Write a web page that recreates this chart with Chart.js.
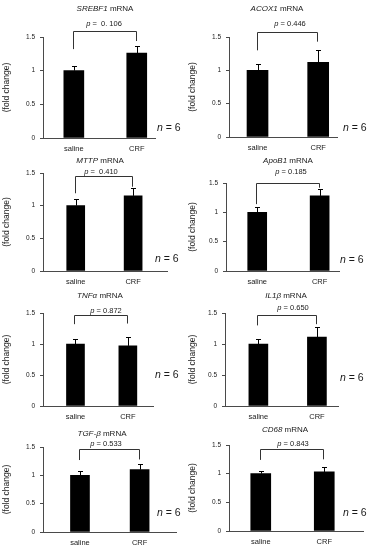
<!DOCTYPE html>
<html>
<head>
<meta charset="utf-8">
<script src="https://cdn.jsdelivr.net/npm/chart.js@4.4.1/dist/chart.umd.min.js"></script>
<style>
  html, body { margin: 0; padding: 0; background: #fff; }
  #wrap { position: relative; width: 372px; height: 550px; overflow: hidden;
          font-family: "Liberation Sans", Arial, sans-serif; color: #1a1a1a; }
  canvas { position: absolute; }
  .lbl { position: absolute; white-space: pre; transform: translate(-50%, -50%); line-height: 1; }
  .ttl { font-size: 8px; }
  .pv { font-size: 7.5px; }
  .nn { position: absolute; white-space: pre; transform: translateY(-50%); font-size: 10.5px; line-height: 1; }
</style>
</head>
<body>
<div id="wrap"></div>
<script>
// values
const genes = ['SREBF1', 'ACOX1', 'MTTP', 'ApoB1', 'TNF\u03b1', 'IL1\u03b2', 'TGF-\u03b2', 'CD68'];
const pLabels = [' 0. 106', '0.446', ' 0.410', '0.185', '0.872', '0.650', '0.533', '0.843'];
const groups = ['saline', 'CRF'];
const salineMean = [1.00, 1.00, 1.00, 1.00, 1.00, 1.00, 1.00, 1.00];
const salineErr = [0.07, 0.10, 0.10, 0.09, 0.08, 0.08, 0.08, 0.05];
const crfMean = [1.26, 1.12, 1.15, 1.28, 0.97, 1.11, 1.10, 1.03];
const crfErr = [0.11, 0.18, 0.12, 0.11, 0.14, 0.17, 0.10, 0.09];
const yTicks = [0, 0.5, 1, 1.5];
// significance bracket: top level and leg ends (data units)
const bracketTop = [1.59, 1.58, 1.46, 1.50, 1.46, 1.46, 1.46, 1.43];
const bracketLeft = [1.32, 1.30, 1.19, 1.14, 1.32, 1.30, 1.27, 1.24];
const bracketRight = [1.44, 1.43, 1.29, 1.42, 1.33, 1.32, 1.28, 1.25];
const nLabel = '6';

// panel placement (pixels)
const layout = [
    { left: 0,   top: 0,   h: 156, L: 43,  R: 155, y15: 37,  y0: 138, bw: 20, xmin: -0.49, xmax: 1.29, title: [105, 9],   p: [104, 23.5], n: [157, 127] },
    { left: 186, top: 0,   h: 156, L: 229, R: 337, y15: 37,  y0: 137, bw: 21, xmin: -0.47, xmax: 1.31, title: [277, 9],   p: [290, 24],   n: [343, 127] },
    { left: 0,   top: 156, h: 132, L: 43,  R: 167, y15: 173, y0: 271, bw: 18, xmin: -0.57, xmax: 1.59, title: [100, 161], p: [101, 172],  n: [155, 258] },
    { left: 186, top: 156, h: 132, L: 226, R: 339, y15: 183, y0: 271, bw: 19, xmin: -0.50, xmax: 1.31, title: [288, 161], p: [291, 172],  n: [340, 259] },
    { left: 0,   top: 288, h: 134, L: 43,  R: 153, y15: 313, y0: 406, bw: 18, xmin: -0.62, xmax: 1.48, title: [100, 296], p: [106, 311],  n: [155, 374] },
    { left: 186, top: 288, h: 134, L: 225, R: 338, y15: 313, y0: 406, bw: 19, xmin: -0.57, xmax: 1.36, title: [286, 296], p: [293, 308],  n: [340, 377] },
    { left: 0,   top: 422, h: 128, L: 43,  R: 176, y15: 447, y0: 532, bw: 19, xmin: -0.62, xmax: 1.61, title: [102, 434], p: [106, 444],  n: [157, 512] },
    { left: 186, top: 422, h: 128, L: 229, R: 363, y15: 445, y0: 531, bw: 20, xmin: -0.50, xmax: 1.61, title: [285, 430], p: [293, 444],  n: [343, 512] }
];

const FONT = '"Liberation Sans", Arial, sans-serif';
const AXIS = '#4a4a4a';

// error bars (upper only) + bracket
const extrasPlugin = {
    id: 'extras',
    afterDatasetsDraw(chart) {
        const i = chart.options.plugins.extras.idx;
        const { ctx, scales: { x, y } } = chart;
        ctx.save();
        ctx.strokeStyle = '#000';
        ctx.lineWidth = 1;
        const bars = [[0, salineMean[i], salineErr[i]], [1, crfMean[i], crfErr[i]]];
        bars.forEach(([xv, m, e]) => {
            const px = Math.round(x.getPixelForValue(xv)) + 0.5;
            const yb = y.getPixelForValue(m);
            const yt = Math.round(y.getPixelForValue(m + e)) + 0.5;
            ctx.beginPath();
            ctx.moveTo(px, yb);
            ctx.lineTo(px, yt);
            ctx.moveTo(px - 2.5, yt);
            ctx.lineTo(px + 2.5, yt);
            ctx.stroke();
        });
        ctx.strokeStyle = '#333';
        const x0 = Math.round(x.getPixelForValue(0)) - 0.5;
        const x1 = Math.round(x.getPixelForValue(1)) - 0.5;
        const yt = Math.round(y.getPixelForValue(bracketTop[i])) + 0.5;
        ctx.beginPath();
        ctx.moveTo(x0, y.getPixelForValue(bracketLeft[i]));
        ctx.lineTo(x0, yt);
        ctx.lineTo(x1, yt);
        ctx.lineTo(x1, y.getPixelForValue(bracketRight[i]));
        ctx.stroke();
        ctx.restore();
    }
};

const wrap = document.getElementById('wrap');

genes.forEach((gene, i) => {
    const lay = layout[i];
    const cv = document.createElement('canvas');
    cv.width = 186;
    cv.height = lay.h;
    cv.style.left = lay.left + 'px';
    cv.style.top = lay.top + 'px';
    wrap.appendChild(cv);

    new Chart(cv.getContext('2d'), {
        type: 'bar',
        data: {
            datasets: [{
                data: [{ x: 0, y: salineMean[i] }, { x: 1, y: crfMean[i] }],
                backgroundColor: '#000',
                borderWidth: 0,
                barThickness: lay.bw
            }]
        },
        options: {
            responsive: false,
            animation: false,
            devicePixelRatio: 1,
            layout: {
                padding: { top: lay.y15 - lay.top, right: 186 - (lay.R - lay.left), left: 0, bottom: 0 }
            },
            plugins: {
                legend: { display: false },
                tooltip: { enabled: false },
                extras: { idx: i }
            },
            scales: {
                x: {
                    type: 'linear',
                    offset: false,
                    min: lay.xmin,
                    max: lay.xmax,
                    afterBuildTicks: s => { s.ticks = [{ value: 0 }, { value: 1 }]; },
                    afterFit: s => { s.height = lay.top + lay.h - lay.y0; },
                    grid: { display: false, drawTicks: false, offset: false },
                    border: { display: true, color: AXIS, width: 1 },
                    ticks: {
                        padding: 6,
                        color: '#1a1a1a',
                        font: { family: FONT, size: 7.5 },
                        callback: v => groups[v]
                    }
                },
                y: {
                    min: 0,
                    max: 1.5,
                    afterBuildTicks: s => { s.ticks = yTicks.map(v => ({ value: v })); },
                    afterFit: s => { s.width = lay.L - lay.left; },
                    grid: { display: true, drawOnChartArea: false, drawTicks: true, tickLength: 3, color: AXIS },
                    border: { display: true, color: AXIS, width: 1 },
                    ticks: {
                        padding: 5,
                        color: '#1a1a1a',
                        font: { family: FONT, size: 6.5 },
                        callback: v => String(v)
                    },
                    title: {
                        display: true,
                        text: '(fold change)',
                        color: '#1a1a1a',
                        font: { family: FONT, size: 8.5 },
                        padding: { top: 2, bottom: 0 }
                    }
                }
            }
        },
        plugins: [extrasPlugin]
    });

    const t = document.createElement('div');
    t.className = 'lbl ttl';
    t.style.left = lay.title[0] + 'px';
    t.style.top = lay.title[1] + 'px';
    t.innerHTML = '<i>' + gene + '</i> mRNA';
    wrap.appendChild(t);

    const p = document.createElement('div');
    p.className = 'lbl pv';
    p.style.left = lay.p[0] + 'px';
    p.style.top = lay.p[1] + 'px';
    p.innerHTML = '<i>p</i> = ' + pLabels[i];
    wrap.appendChild(p);

    const n = document.createElement('div');
    n.className = 'nn';
    n.style.left = lay.n[0] + 'px';
    n.style.top = lay.n[1] + 'px';
    n.innerHTML = '<i>n</i> = ' + nLabel;
    wrap.appendChild(n);
});
</script>
</body>
</html>
